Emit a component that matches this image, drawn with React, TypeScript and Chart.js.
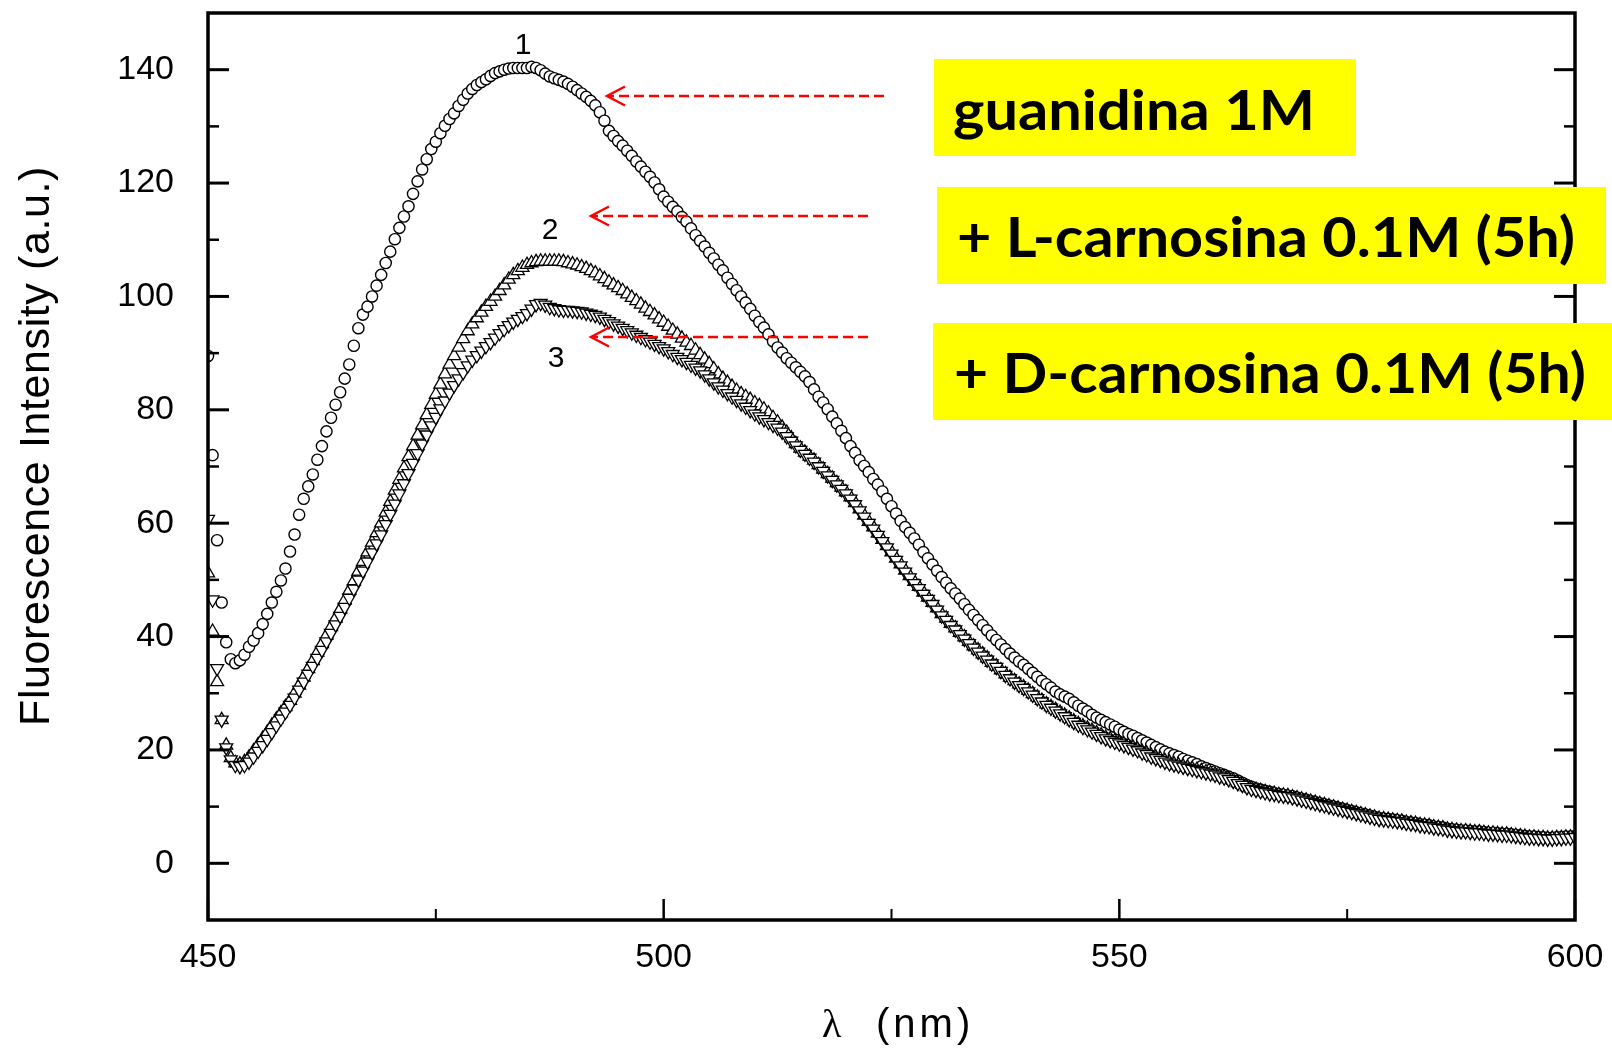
import React, { useEffect, useRef } from "react";
import { Chart, registerables } from "chart.js";

Chart.register(...registerables);

// Wavelength grid of the spectra (nm)
const WL_START = 450;
const WL_STEP = 0.5;

// Series 1: guanidina 1M (circles)
const guanidina = [
  89.5, 72, 57, 46, 39, 36, 35.3, 35.8, 36.8, 38.2,
  39.3, 40.6, 42.2, 44, 46, 47.9, 49.9, 52, 55, 58,
  61.5, 64.3, 66.5, 68.6, 71.2, 73.6, 76.2, 78.6, 80.9, 83.1,
  85.5, 88, 91.3, 94.4, 96.8, 98.2, 100, 101.9, 103.8, 105.9,
  107.9, 110.1, 112.1, 114.1, 115.9, 118.1, 120.3, 122.4, 124.2, 126,
  127.3, 128.8, 130.1, 131.3, 132.3, 133.6, 134.7, 135.8, 136.6, 137.3,
  137.8, 138.3, 138.9, 139.4, 139.7, 140, 140.2, 140.3, 140.3, 140.3,
  140.3, 140.5, 140.3, 139.9, 139.3, 138.8, 138.5, 138.2, 137.9, 137.5,
  137, 136.4, 135.8, 135.2, 134.5, 133.7, 132.5, 131, 129.2, 128.3,
  127.4, 126.6, 125.7, 124.8, 123.8, 122.9, 122, 121.1, 120.1, 118.9,
  117.6, 116.7, 115.8, 115, 114, 113.2, 112, 110.8, 109.8, 108.8,
  107.7, 106.7, 105.6, 104.6, 103.3, 102.2, 101.1, 100, 98.9, 97.8,
  96.6, 95.5, 94.5, 93.3, 92.1, 91, 90.1, 89.1, 88.3, 87.5,
  86.7, 85.9, 84.9, 83.6, 82.3, 81.3, 80.1, 78.8, 77.6, 76.3,
  75, 73.6, 72.4, 71.1, 70.1, 69, 67.8, 66.8, 65.6, 64.3,
  63, 61.7, 60.4, 59.3, 58.3, 57.3, 56.2, 54.9, 53.8, 52.7,
  51.6, 50.5, 49.5, 48.5, 47.6, 46.7, 45.7, 44.7, 43.8, 42.9,
  42, 41.1, 40.2, 39.4, 38.6, 37.8, 37, 36.3, 35.6, 35,
  34.3, 33.6, 32.9, 32.2, 31.6, 31, 30.3, 29.8, 29.4, 29,
  28.4, 27.8, 27.3, 26.8, 26.2, 25.7, 25.3, 24.9, 24.5, 24.1,
  23.6, 23.2, 22.8, 22.5, 22.1, 21.7, 21.3, 20.9, 20.5, 20.1,
  19.7, 19.4, 19.1, 18.8, 18.4, 18.1, 17.8, 17.5, 17.1, 16.8,
  16.5, 16.2, 15.9, 15.6, 15.3, 15, 14.6, 14.2, 13.8, 13.5,
  13.2, 13, 12.8, 12.6, 12.4, 12.2, 12.1, 11.9, 11.8, 11.6,
  11.4, 11.2, 11, 10.8, 10.6, 10.4, 10.2, 10, 9.8, 9.6,
  9.4, 9.2, 9, 8.8, 8.6, 8.4, 8.2, 8, 7.9, 7.8,
  7.7, 7.6, 7.5, 7.3, 7.2, 7.1, 6.9, 6.8, 6.7, 6.5,
  6.4, 6.3, 6.1, 6, 5.9, 5.8, 5.8, 5.7, 5.6, 5.6,
  5.5, 5.4, 5.4, 5.3, 5.2, 5.2, 5.1, 5, 4.9, 4.8,
  4.7, 4.7, 4.6, 4.6, 4.5, 4.5, 4.6, 4.6, 4.7, 4.7,
  4.8,
];

// Series 2: + L-carnosina 0.1M (5h) (up triangles)
const lCarnosina = [
  51.2, 40.9, 32, 25.3, 20.8, 18.6, 17.7, 17.5, 17.9, 18.7,
  19.8, 20.9, 22, 23.1, 24.3, 25.4, 26.5, 27.6, 28.7, 30,
  31.4, 32.8, 34.3, 35.7, 37.2, 38.7, 40.2, 41.7, 43.2, 44.8,
  46.4, 48.1, 49.8, 51.5, 53.2, 54.9, 56.6, 58.3, 60, 61.9,
  63.8, 65.8, 67.7, 69.7, 71.7, 73.6, 75.5, 77.3, 79.1, 80.9,
  82.7, 84.5, 86.3, 88, 89.5, 91, 92.5, 93.9, 95.1, 96.2,
  97.2, 98.2, 99.1, 100, 101, 102, 103, 103.8, 104.5, 105.1,
  105.6, 105.9, 106.1, 106.2, 106.2, 106.2, 106.2, 106.2, 106.1, 105.9,
  105.7, 105.5, 105.2, 104.9, 104.5, 104.1, 103.6, 103.1, 102.5, 102,
  101.5, 101, 100.4, 99.8, 99.2, 98.6, 97.9, 97.3, 96.7, 96,
  95.4, 94.7, 94, 93.3, 92.6, 91.9, 91.3, 90.5, 89.7, 88.9,
  88.1, 87.2, 86.3, 85.5, 84.8, 84.1, 83.4, 82.8, 82.3, 81.8,
  81.2, 80.7, 80.1, 79.4, 78.6, 77.8, 76.9, 76, 75, 74,
  73.2, 72.5, 71.8, 71.1, 70.3, 69.5, 68.7, 67.9, 67.1, 66.3,
  65.5, 64.6, 63.6, 62.5, 61.4, 60.3, 59.3, 58.2, 57.1, 56,
  54.9, 53.8, 52.8, 51.7, 50.7, 49.7, 48.8, 47.8, 46.9, 46,
  45, 44, 43.2, 42.3, 41.5, 40.7, 39.9, 39.1, 38.3, 37.6,
  36.9, 36.2, 35.4, 34.8, 34.1, 33.4, 32.8, 32.2, 31.6, 31.1,
  30.5, 29.9, 29.3, 28.7, 28.1, 27.6, 27.1, 26.6, 26.1, 25.6,
  25.1, 24.6, 24.2, 23.8, 23.4, 23, 22.6, 22.2, 21.9, 21.6,
  21.3, 21, 20.7, 20.4, 20.1, 19.7, 19.4, 19, 18.7, 18.4,
  18.1, 17.8, 17.5, 17.3, 17.1, 16.9, 16.7, 16.5, 16.3, 16.1,
  15.9, 15.7, 15.4, 15.2, 14.9, 14.6, 14.2, 13.9, 13.5, 13.2,
  13, 12.8, 12.6, 12.4, 12.3, 12.1, 12, 11.9, 11.7, 11.5,
  11.3, 11.1, 10.9, 10.7, 10.5, 10.3, 10.1, 9.9, 9.7, 9.5,
  9.3, 9.1, 8.9, 8.7, 8.5, 8.3, 8.1, 7.9, 7.8, 7.7,
  7.6, 7.5, 7.4, 7.2, 7.1, 7, 6.8, 6.7, 6.6, 6.4,
  6.3, 6.2, 6, 5.9, 5.8, 5.7, 5.7, 5.6, 5.5, 5.5,
  5.4, 5.3, 5.3, 5.2, 5.1, 5.1, 5, 4.9, 4.8, 4.7,
  4.6, 4.6, 4.5, 4.5, 4.4, 4.4, 4.5, 4.5, 4.6, 4.6,
  4.7,
];

// Series 3: + D-carnosina 0.1M (5h) (down triangles)
const dCarnosina = [
  60.7, 46.5, 34.4, 25.3, 20.4, 18.3, 17.3, 17.1, 17.3, 17.9,
  18.8, 19.8, 20.8, 21.9, 23.1, 24.3, 25.5, 26.7, 27.9, 29.2,
  30.6, 32, 33.4, 34.8, 36.2, 37.6, 39.1, 40.6, 42.1, 43.6,
  45.2, 46.8, 48.4, 50, 51.6, 53.2, 54.8, 56.4, 58, 59.8,
  61.6, 63.4, 65.2, 67, 68.8, 70.6, 72.3, 74, 75.6, 77.2,
  78.7, 80.2, 81.6, 83, 84.3, 85.5, 86.6, 87.8, 88.8, 89.6,
  90.4, 91.2, 91.9, 92.7, 93.5, 94.2, 94.9, 95.5, 96, 96.5,
  97, 97.8, 98.6, 98.8, 98.5, 98.1, 97.9, 97.7, 97.6, 97.6,
  97.5, 97.4, 97.3, 97.1, 96.9, 96.7, 96.4, 96, 95.6, 95.2,
  94.8, 94.4, 94, 93.6, 93.2, 92.8, 92.4, 92, 91.6, 91.2,
  90.8, 90.3, 89.8, 89.3, 88.9, 88.4, 87.9, 87.4, 86.9, 86.2,
  85.5, 84.8, 84.1, 83.5, 82.9, 82.3, 81.7, 81.1, 80.5, 79.9,
  79.3, 78.8, 78.3, 77.8, 77.3, 76.8, 76.1, 75.3, 74.5, 73.7,
  72.9, 72.2, 71.5, 70.8, 70, 69.2, 68.4, 67.6, 66.8, 66,
  65.2, 64.3, 63.3, 62.2, 61.1, 60, 59, 57.9, 56.8, 55.7,
  54.6, 53.5, 52.5, 51.4, 50.4, 49.4, 48.5, 47.5, 46.6, 45.7,
  44.7, 43.7, 42.9, 42, 41.2, 40.4, 39.6, 38.8, 38, 37.3,
  36.6, 35.9, 35.2, 34.6, 33.9, 33.2, 32.6, 32, 31.4, 30.9,
  30.3, 29.7, 29.1, 28.5, 27.9, 27.4, 26.9, 26.4, 25.9, 25.4,
  24.9, 24.4, 24, 23.6, 23.2, 22.8, 22.4, 22, 21.7, 21.4,
  21.1, 20.8, 20.5, 20.2, 19.9, 19.5, 19.2, 18.8, 18.5, 18.2,
  17.9, 17.6, 17.4, 17.2, 17, 16.8, 16.6, 16.4, 16.2, 16,
  15.8, 15.6, 15.3, 15.1, 14.8, 14.5, 14.1, 13.8, 13.4, 13.1,
  12.9, 12.7, 12.5, 12.3, 12.2, 12, 11.9, 11.8, 11.6, 11.4,
  11.2, 11, 10.8, 10.6, 10.4, 10.2, 10, 9.8, 9.6, 9.4,
  9.2, 9, 8.8, 8.6, 8.4, 8.2, 8, 7.8, 7.7, 7.6,
  7.5, 7.4, 7.3, 7.1, 7, 6.9, 6.7, 6.6, 6.5, 6.3,
  6.2, 6.1, 5.9, 5.8, 5.7, 5.6, 5.6, 5.5, 5.4, 5.4,
  5.3, 5.2, 5.2, 5.1, 5, 5, 4.9, 4.8, 4.7, 4.6,
  4.5, 4.5, 4.4, 4.4, 4.3, 4.3, 4.4, 4.4, 4.5, 4.5,
  4.6,
];

const X_MIN = 450;
const X_MAX = 600;
const Y_MIN = -10;
const Y_MAX = 150;
const X_MAJOR = [450, 500, 550, 600];
const X_MINOR = [475, 525, 575];
const Y_MAJOR = [0, 20, 40, 60, 80, 100, 120, 140];
const Y_MINOR = [10, 30, 50, 70, 90, 110, 130];

const X_TITLE_SYMBOL = "λ";
const X_TITLE_UNIT = "(nm)";
const Y_TITLE = "Fluorescence Intensity (a.u.)";
const CURVE_NUMBERS = ["1", "2", "3"];
const BOX_TEXTS = ["guanidina 1M", "+ L-carnosina 0.1M (5h)", "+ D-carnosina 0.1M (5h)"];

const SANS = "'Liberation Sans', Arial, Helvetica, sans-serif";
const BOLD_BOX = "bold 56px Lato, 'Open Sans', 'Noto Sans', sans-serif";

function toPoints(values: number[]) {
  return values.map((v, i) => ({ x: WL_START + i * WL_STEP, y: v }));
}

function fitText(ctx: CanvasRenderingContext2D, text: string, left: number, right: number, baseline: number, font: string) {
  ctx.save();
  ctx.font = font;
  ctx.textAlign = "left";
  ctx.textBaseline = "alphabetic";
  const w = ctx.measureText(text).width;
  const sx = (right - left) / w;
  ctx.translate(left, baseline);
  ctx.scale(sx, 1);
  ctx.fillStyle = "#000";
  ctx.fillText(text, 0, 0);
  ctx.restore();
}

function drawArrow(ctx: CanvasRenderingContext2D, tipX: number, y: number, endX: number) {
  ctx.save();
  ctx.strokeStyle = "#ff0000";
  ctx.lineWidth = 2.5;
  ctx.setLineDash([10, 5]);
  ctx.beginPath();
  ctx.moveTo(endX, y);
  ctx.lineTo(tipX + 2, y);
  ctx.stroke();
  ctx.setLineDash([]);
  ctx.beginPath();
  ctx.moveTo(tipX + 18, y - 9.5);
  ctx.lineTo(tipX, y);
  ctx.lineTo(tipX + 18, y + 9.5);
  ctx.stroke();
  ctx.restore();
}

const framePlugin = {
  id: "originFrame",
  afterDraw(chart: any) {
    const ctx: CanvasRenderingContext2D = chart.ctx;
    const { left, right, top, bottom } = chart.chartArea;
    const xs = chart.scales.x;
    const ys = chart.scales.y;
    ctx.save();
    ctx.strokeStyle = "#000";
    ctx.lineCap = "butt";

    const line = (x1: number, y1: number, x2: number, y2: number, w: number) => {
      ctx.lineWidth = w;
      ctx.beginPath();
      ctx.moveTo(x1, y1);
      ctx.lineTo(x2, y2);
      ctx.stroke();
    };
    const MAJ = 21;
    const MIN = 11;
    X_MAJOR.forEach((v) => {
      const p = xs.getPixelForValue(v);
      line(p, bottom, p, bottom - MAJ, 2.5);
    });
    X_MINOR.forEach((v) => {
      const p = xs.getPixelForValue(v);
      line(p, bottom, p, bottom - MIN, 2);
    });
    Y_MAJOR.forEach((v) => {
      const p = ys.getPixelForValue(v);
      line(left, p, left + MAJ, p, 3);
      line(right, p, right - MAJ, p, 3);
    });
    Y_MINOR.forEach((v) => {
      const p = ys.getPixelForValue(v);
      line(left, p, left + MIN, p, 2.5);
      line(right, p, right - MIN, p, 2.5);
    });
    ctx.lineWidth = 3.5;
    ctx.lineJoin = "miter";
    ctx.strokeRect(left, top, right - left, bottom - top);

    // Axis titles
    ctx.fillStyle = "#000";
    ctx.save();
    ctx.font = `43px ${SANS}`;
    (ctx as any).letterSpacing = "0.6px";
    ctx.translate(48.5, 446);
    ctx.rotate(-Math.PI / 2);
    ctx.textAlign = "center";
    ctx.textBaseline = "alphabetic";
    ctx.fillText(Y_TITLE, 0, 0);
    ctx.restore();

    ctx.save();
    ctx.textAlign = "left";
    ctx.textBaseline = "alphabetic";
    ctx.font = `40px 'Liberation Serif', 'Times New Roman', serif`;
    ctx.fillText(X_TITLE_SYMBOL, 822, 1037);
    ctx.font = `40px ${SANS}`;
    (ctx as any).letterSpacing = "4px";
    ctx.fillText(X_TITLE_UNIT, 876, 1037);
    ctx.restore();

    // Curve numbers
    ctx.save();
    ctx.font = `30px ${SANS}`;
    ctx.textAlign = "center";
    ctx.textBaseline = "alphabetic";
    ctx.fillText(CURVE_NUMBERS[0], 523, 54);
    ctx.fillText(CURVE_NUMBERS[1], 550, 239);
    ctx.fillText(CURVE_NUMBERS[2], 556, 367);
    ctx.restore();

    // Red dashed arrows
    drawArrow(ctx, 607, 96, 884);
    drawArrow(ctx, 591, 216, 868);
    drawArrow(ctx, 591, 337, 868);

    // Yellow labels
    ctx.fillStyle = "#ffff00";
    ctx.fillRect(934, 59, 422, 97);
    ctx.fillRect(937, 187, 669, 97);
    ctx.fillRect(933, 323, 679, 97);
    fitText(ctx, BOX_TEXTS[0], 953, 1315, 129.5, BOLD_BOX);
    fitText(ctx, BOX_TEXTS[1], 957, 1575, 256.5, BOLD_BOX);
    fitText(ctx, BOX_TEXTS[2], 954, 1586, 392.5, BOLD_BOX);

    ctx.restore();
  },
};

export default function App() {
  const canvasRef = useRef<HTMLCanvasElement | null>(null);

  useEffect(() => {
    const canvas = canvasRef.current;
    if (!canvas) return;
    const common = {
      showLine: false,
      borderColor: "#000",
      backgroundColor: "#fff",
      pointBackgroundColor: "#fff",
      pointBorderColor: "#000",
      clip: 0,
    };
    const chart = new Chart(canvas, {
      type: "scatter",
      data: {
        datasets: [
          {
            ...common,
            label: BOX_TEXTS[2],
            data: toPoints(dCarnosina),
            pointStyle: "triangle",
            rotation: 180,
            pointRadius: 7.5,
            pointHoverRadius: 7.5,
            pointBorderWidth: 1.3,
          },
          {
            ...common,
            label: BOX_TEXTS[1],
            data: toPoints(lCarnosina),
            pointStyle: "triangle",
            pointRadius: 7.5,
            pointHoverRadius: 7.5,
            pointBorderWidth: 1.3,
          },
          {
            ...common,
            label: BOX_TEXTS[0],
            data: toPoints(guanidina),
            pointStyle: "circle",
            pointRadius: 5.6,
            pointHoverRadius: 5.6,
            pointBorderWidth: 1.4,
          },
        ],
      } as any,
      options: {
        animation: false,
        responsive: false,
        devicePixelRatio: 1,
        events: [],
        layout: { padding: { left: 0, right: 37, top: 13, bottom: 0 } },
        plugins: {
          legend: { display: false },
          tooltip: { enabled: false },
          title: { display: false },
        },
        scales: {
          x: {
            type: "linear",
            min: X_MIN,
            max: X_MAX,
            grid: { display: false },
            border: { display: false },
            afterBuildTicks: (s: any) => {
              s.ticks = X_MAJOR.map((v) => ({ value: v }));
            },
            afterFit: (s: any) => {
              s.height = 129;
              s.paddingLeft = 0;
              s.paddingRight = 0;
            },
            ticks: {
              color: "#000",
              padding: 9,
              maxRotation: 0,
              autoSkip: false,
              font: { family: SANS, size: 34 },
              callback: (v: any) => String(v),
            },
          },
          y: {
            type: "linear",
            min: Y_MIN,
            max: Y_MAX,
            grid: { display: false },
            border: { display: false },
            afterBuildTicks: (s: any) => {
              s.ticks = Y_MAJOR.map((v) => ({ value: v }));
            },
            afterFit: (s: any) => {
              s.width = 208;
              s.paddingTop = 0;
              s.paddingBottom = 0;
            },
            ticks: {
              color: "#000",
              padding: 26,
              autoSkip: false,
              font: { family: SANS, size: 34 },
              callback: (v: any) => String(v),
            },
          },
        },
      } as any,
      plugins: [framePlugin],
    });
    return () => {
      chart.destroy();
    };
  }, []);

  return (
    <div style={{ position: "absolute", left: 0, top: 0, width: 1612, height: 1049, background: "#fff" }}>
      <canvas ref={canvasRef} width={1612} height={1049} style={{ display: "block", width: 1612, height: 1049 }} />
    </div>
  );
}
